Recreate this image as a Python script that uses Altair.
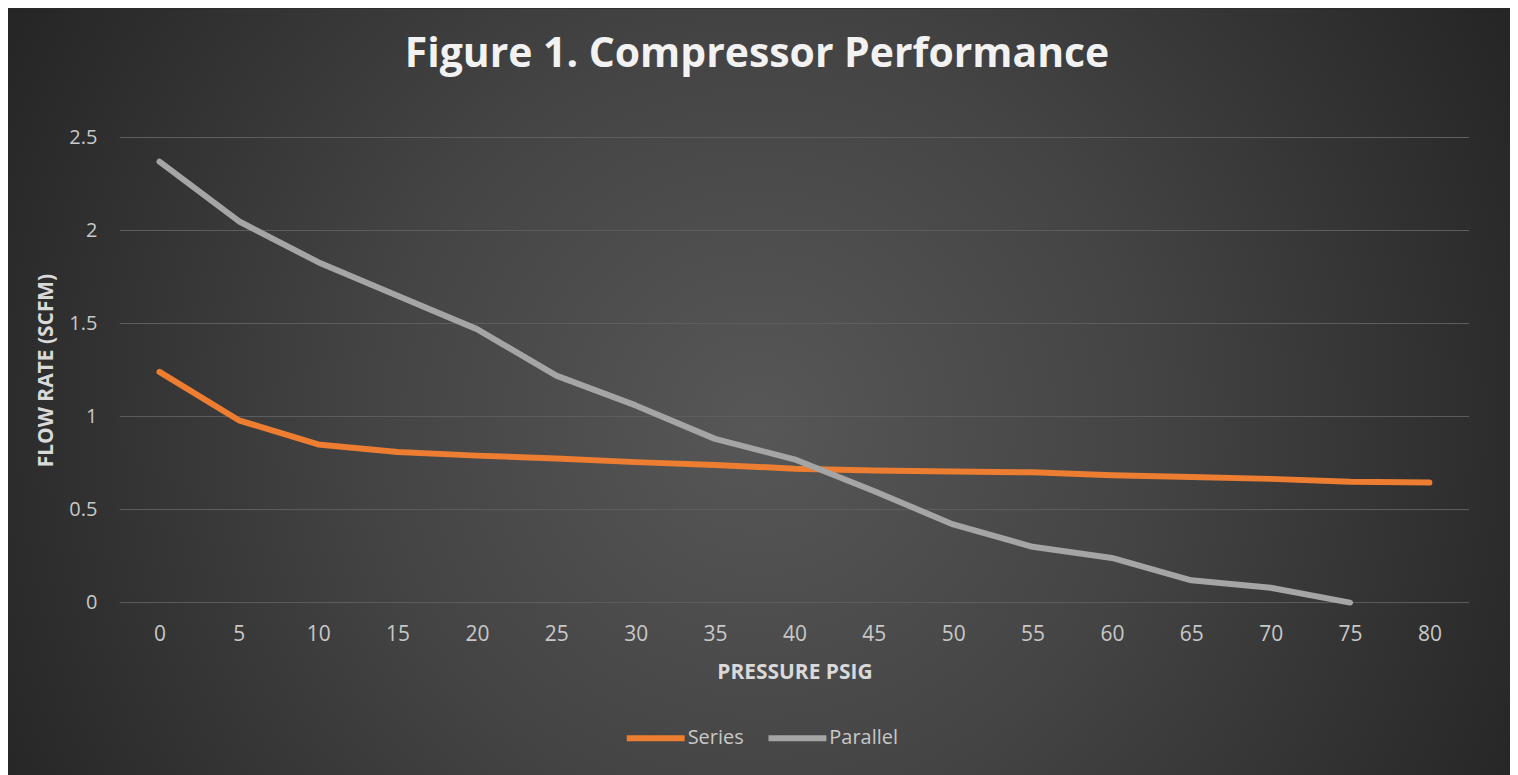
import altair as alt
import pandas as pd

# ---- data ----
pressure = [0, 5, 10, 15, 20, 25, 30, 35, 40, 45, 50, 55, 60, 65, 70, 75, 80]
series_flow = [1.24, 0.98, 0.85, 0.81, 0.79, 0.775, 0.755, 0.74, 0.72, 0.71,
               0.705, 0.70, 0.685, 0.675, 0.665, 0.65, 0.645]
parallel_flow = [2.37, 2.05, 1.83, 1.65, 1.47, 1.22, 1.06, 0.88, 0.77, 0.60,
                 0.42, 0.30, 0.24, 0.12, 0.08, 0.0]
series_names = ["Series", "Parallel"]
series_colors = ["#ED7D31", "#A5A5A5"]
y_ticks = [0, 0.5, 1, 1.5, 2, 2.5]

rows = []
for p, v in zip(pressure, series_flow):
    rows.append({"pressure": p, "flow": v, "name": "Series"})
for p, v in zip(pressure, parallel_flow):
    rows.append({"pressure": p, "flow": v, "name": "Parallel"})
df = pd.DataFrame(rows)
grid_df = pd.DataFrame({"flow": y_ticks})

# ---- layout ----
W, H = 1352, 466
PAD_L, PAD_T, PAD_R, PAD_B = 112, 129, 41, 175
FONT = "Open Sans"

x_scale = alt.Scale(domain=[-2.5, 82.5], nice=False, zero=False)
y_scale = alt.Scale(domain=[0, 2.5], nice=False)

y_axis = alt.Axis(
    values=y_ticks, format="~g", grid=False, domain=False, ticks=False,
    zindex=1,
    labelFont=FONT, labelFontSize=20, labelColor="#c8c8c8",
    labelPadding=23,
    title="FLOW RATE (SCFM)", titleFont=FONT, titleFontSize=21,
    titleFontWeight="bold", titleColor="#d9d9d9",
    titleX=-73, titleY=H / 2, titleAngle=-90, titleBaseline="middle",
    titleAlign="center",
)

bg = alt.Chart(pd.DataFrame({"k": [0]})).mark_rect(
    fill=alt.RadialGradient(
        gradient="radial",
        x1=0.5, y1=0.52, r1=0, x2=0.5, y2=0.52, r2=0.56,
        stops=[
            alt.GradientStop(color="#575757", offset=0),
            alt.GradientStop(color="#444444", offset=0.46),
            alt.GradientStop(color="#2c2c2c", offset=0.89),
            alt.GradientStop(color="#262626", offset=1),
        ],
    )
).encode(
    x=alt.value(-PAD_L), x2=alt.value(W + PAD_R),
    y=alt.value(-PAD_T), y2=alt.value(H + PAD_B),
)

grid = alt.Chart(grid_df).mark_rule(color="#5e5e5e", strokeWidth=1).encode(
    y=alt.Y("flow:Q", scale=y_scale, axis=y_axis),
    x=alt.value(0), x2=alt.value(W),
)

lines = alt.Chart(df).mark_line(
    strokeWidth=6, strokeCap="round", strokeJoin="round"
).encode(
    x=alt.X(
        "pressure:Q",
        scale=x_scale,
        axis=alt.Axis(
            values=pressure, grid=False, domain=False, ticks=False, zindex=1,
            labelFont=FONT, labelFontSize=21, labelColor="#c8c8c8",
            labelPadding=32, labelBaseline="middle",
            title="PRESSURE PSIG", titleFont=FONT, titleFontSize=21,
            titleFontWeight="bold", titleColor="#d9d9d9",
            titleY=70, titleBaseline="middle",
        ),
    ),
    y=alt.Y("flow:Q", scale=y_scale, axis=y_axis),
    color=alt.Color(
        "name:N",
        scale=alt.Scale(domain=series_names, range=series_colors),
        sort=series_names,
        legend=alt.Legend(
            title=None, orient="none", direction="horizontal",
            legendX=505, legendY=570,
            symbolType="stroke", symbolSize=3364, symbolStrokeWidth=6,
            labelFont=FONT, labelFontSize=20, labelColor="#c8c8c8",
            labelOffset=0, columnPadding=12, zindex=1,
        ),
    ),
)

chart = alt.layer(bg, grid, lines).properties(
    width=W, height=H,
    autosize=alt.AutoSizeParams(type="none"),
    padding={"left": PAD_L, "top": PAD_T, "right": PAD_R, "bottom": PAD_B},
    background="#2b2b2b",
    title=alt.TitleParams(
        "Figure 1. Compressor Performance",
        font=FONT, fontSize=41, fontWeight="bold", color="#f2f2f2",
        anchor="middle", frame="bounds", offset=-99, dx=-2,
        baseline="alphabetic", zindex=1,
    ),
).configure_view(stroke=None)

chart.save("out.html", embed_options={"renderer": "svg", "actions": False})
